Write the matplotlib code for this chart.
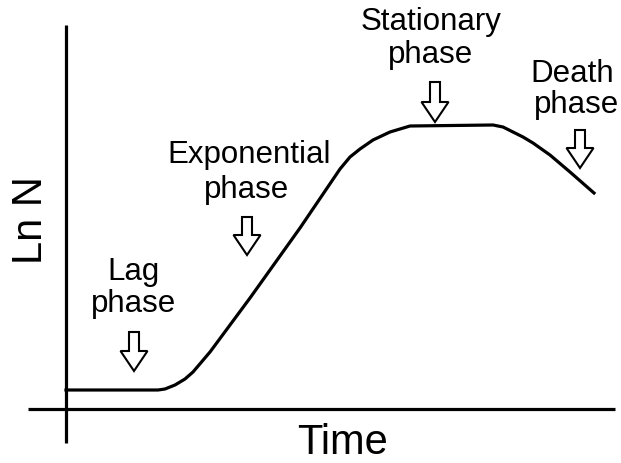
import matplotlib
matplotlib.use("Agg")
import matplotlib.pyplot as plt
from matplotlib.patches import FancyArrow

plt.rcParams['font.family'] = ['Liberation Sans', 'DejaVu Sans']

# Growth curve (arbitrary units)
time = [0.00, 1.84, 1.98, 2.18, 2.38, 2.54, 2.88, 3.68, 4.68, 5.48, 5.68, 5.88, 6.14,
        6.48, 6.68, 6.88, 8.54, 8.74, 8.94, 9.14, 9.34, 9.68, 10.08, 10.56]
ln_n = [0.38, 0.38, 0.40, 0.48, 0.60, 0.74, 1.14, 2.22, 3.62, 4.80, 5.04, 5.20, 5.38,
        5.54, 5.60, 5.66, 5.68, 5.64, 5.54, 5.44, 5.32, 5.08, 4.74, 4.32]

# Phase labels: (lines, x centre, baselines)
phase_lines = [["Lag", "phase"], ["Exponential", "phase"],
               ["Stationary", "phase"], ["Death", "phase"]]
phase_x = [[1.36, 1.35], [3.66, 3.61], [7.31, 7.30], [10.12, 10.22]]
phase_base = [[2.58, 1.94], [4.92, 4.22], [7.58, 6.92], [6.54, 5.92]]

# Arrow positions: x, top, tip
arrow_x = [1.36, 3.62, 7.38, 10.28]
arrow_top = [1.54, 3.84, 6.54, 5.58]
arrow_tip = [0.76, 3.08, 5.74, 4.82]

fig = plt.figure(figsize=(6.21, 4.63), dpi=100)
ax = fig.add_axes([0, 0, 1, 1])
ax.set_xlim(-1.32, 11.10)
ax.set_ylim(-1.08, 8.18)
ax.axis('off')

lw = 2.3
# axes lines
ax.plot([0, 0], [-0.68, 7.68], color='black', lw=lw, solid_capstyle='butt')
ax.plot([-0.76, 10.98], [0, 0], color='black', lw=lw, solid_capstyle='butt')

ax.plot(time, ln_n, color='black', lw=lw, solid_joinstyle='round')

for lines, xs, bs in zip(phase_lines, phase_x, phase_base):
    for s, x, b in zip(lines, xs, bs):
        ax.text(x, b, s, ha='center', va='baseline', fontsize=22.5, color='black')

for x, top, tip in zip(arrow_x, arrow_top, arrow_tip):
    arr = FancyArrow(x, top, 0, tip - top, width=0.20, head_width=0.54,
                     head_length=0.40, length_includes_head=True,
                     facecolor='white', edgecolor='black', lw=1.5)
    ax.add_patch(arr)

ax.text(-0.70, 3.78, "Ln N", rotation=90, ha='center', va='center', fontsize=30)
ax.text(5.54, -0.90, "Time", ha='center', va='baseline', fontsize=30)

fig.savefig("out.png", dpi=100, facecolor='white')
